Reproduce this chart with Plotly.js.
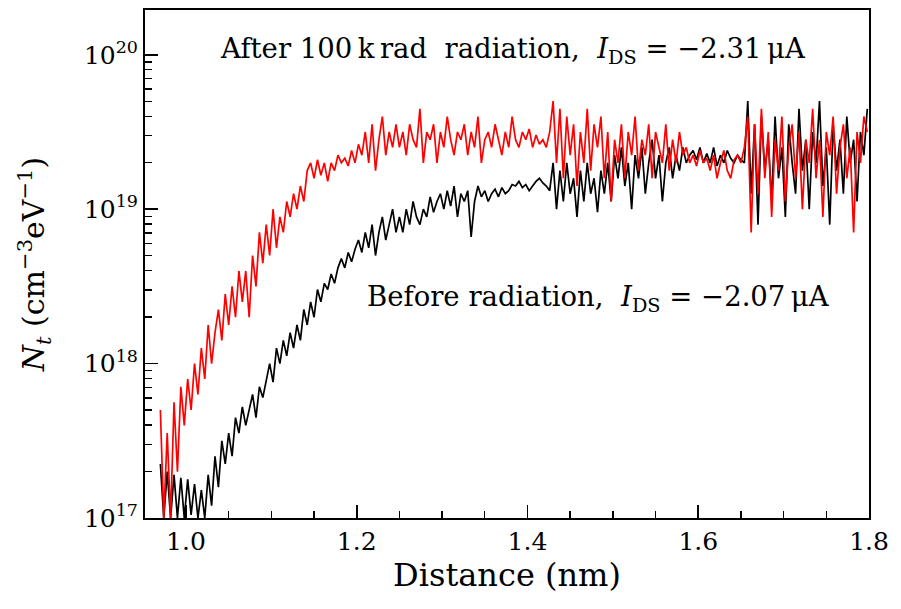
<!DOCTYPE html>
<html>
<head>
<meta charset="utf-8">
<script src="https://cdn.plot.ly/plotly-3.0.1.min.js"></script>
<style>html,body{margin:0;padding:0;background:#fff;}#chart{width:901px;height:609px;}</style>
</head>
<body>
<div id="chart"></div>
<script>
// Distance grid (nm)
const distance = [
0.970,0.974,0.978,0.982,0.986,0.990,0.994,0.998,1.002,1.006,
1.010,1.014,1.018,1.022,1.026,1.030,1.034,1.038,1.042,1.046,
1.050,1.054,1.058,1.062,1.066,1.070,1.074,1.078,1.082,1.086,
1.090,1.094,1.098,1.102,1.106,1.110,1.114,1.118,1.122,1.126,
1.130,1.134,1.138,1.142,1.146,1.150,1.154,1.158,1.162,1.166,
1.170,1.174,1.178,1.182,1.186,1.190,1.194,1.198,1.202,1.206,
1.210,1.214,1.218,1.222,1.226,1.230,1.234,1.238,1.242,1.246,
1.250,1.254,1.258,1.262,1.266,1.270,1.274,1.278,1.282,1.286,
1.290,1.294,1.298,1.302,1.306,1.310,1.314,1.318,1.322,1.326,
1.330,1.334,1.338,1.342,1.346,1.350,1.354,1.358,1.362,1.366,
1.370,1.374,1.378,1.382,1.386,1.390,1.394,1.398,1.402,1.406,
1.410,1.414,1.418,1.422,1.426,1.430,1.434,1.438,1.442,1.446,
1.450,1.454,1.458,1.462,1.466,1.470,1.474,1.478,1.482,1.486,
1.490,1.494,1.498,1.502,1.506,1.510,1.514,1.518,1.522,1.526,
1.530,1.534,1.538,1.542,1.546,1.550,1.554,1.558,1.562,1.566,
1.570,1.574,1.578,1.582,1.586,1.590,1.594,1.598,1.602,1.606,
1.610,1.614,1.618,1.622,1.626,1.630,1.634,1.638,1.642,1.646,
1.650,1.654,1.658,1.662,1.666,1.670,1.674,1.678,1.682,1.686,
1.690,1.694,1.698,1.702,1.706,1.710,1.714,1.718,1.722,1.726,
1.730,1.734,1.738,1.742,1.746,1.750,1.754,1.758,1.762,1.766,
1.770,1.774,1.778,1.782,1.786,1.790,1.794,1.798];

// log10 of Nt (cm^-3 eV^-1), after 100 krad radiation
const afterLog = [
17.7,17.0,17.55,17.0,17.75,17.3,17.85,17.6,17.9,17.7,
18.0,17.8,18.1,17.9,18.25,18.0,18.2,18.35,18.15,18.45,
18.25,18.5,18.3,18.6,18.4,18.6,18.3,18.7,18.5,18.85,
18.65,18.9,18.7,19.0,18.75,18.95,18.85,19.05,18.95,19.1,
19.0,19.15,19.05,19.25,19.3,19.2,19.32,19.22,19.3,19.18,
19.3,19.25,19.35,19.3,19.33,19.28,19.38,19.3,19.42,19.35,
19.5,19.3,19.55,19.25,19.45,19.6,19.35,19.5,19.4,19.55,
19.4,19.5,19.35,19.55,19.45,19.4,19.65,19.3,19.5,19.45,
19.55,19.3,19.5,19.4,19.6,19.45,19.35,19.5,19.45,19.55,
19.35,19.5,19.4,19.6,19.3,19.45,19.5,19.4,19.55,19.45,
19.35,19.5,19.4,19.6,19.45,19.4,19.5,19.45,19.52,19.4,
19.48,19.42,19.45,19.4,19.5,19.7,19.3,19.65,19.2,19.6,
19.35,19.55,19.15,19.5,19.3,19.65,19.25,19.55,19.4,19.6,
19.2,19.5,19.05,19.45,19.3,19.55,19.2,19.5,19.35,19.6,
19.25,19.45,19.35,19.55,19.2,19.5,19.4,19.3,19.55,19.25,
19.45,19.3,19.5,19.35,19.4,19.3,19.35,19.28,19.38,19.3,
19.33,19.25,19.35,19.2,19.3,19.38,19.25,19.2,19.32,19.35,
19.3,19.4,19.6,18.85,19.55,19.1,19.65,19.2,19.5,18.95,
19.45,19.25,19.6,19.05,19.4,19.55,19.2,19.5,19.0,19.45,
19.3,19.65,19.2,19.45,18.95,19.5,19.35,19.6,19.1,19.4,
19.55,19.2,19.4,18.85,19.5,19.3,19.6,19.5];

// log10 of Nt (cm^-3 eV^-1), before radiation
const beforeLog = [
17.35,17.0,17.3,17.0,17.28,17.0,17.26,17.0,17.25,17.02,
17.22,17.0,17.18,17.0,17.28,17.08,17.4,17.2,17.5,17.35,
17.55,17.4,17.65,17.55,17.72,17.6,17.7,17.8,17.65,17.85,
17.78,17.9,18.0,17.88,18.1,18.0,18.15,18.05,18.2,18.1,
18.25,18.15,18.35,18.25,18.4,18.3,18.48,18.4,18.52,18.48,
18.58,18.52,18.62,18.68,18.62,18.72,18.66,18.74,18.8,18.72,
18.85,18.75,18.9,18.7,18.85,18.95,18.8,18.9,19.0,18.85,
18.95,18.85,19.0,18.9,19.05,18.95,18.9,19.0,18.95,19.08,
18.98,19.05,19.1,19.0,19.12,19.02,19.15,18.95,19.1,19.05,
19.12,18.82,19.05,19.15,19.08,19.12,19.05,19.1,19.13,19.08,
19.14,19.1,19.12,19.16,19.15,19.18,19.14,19.16,19.12,19.15,
19.18,19.2,19.17,19.15,19.12,19.3,19.0,19.25,19.05,19.3,
19.1,19.2,18.95,19.25,19.05,19.3,19.1,19.2,18.98,19.25,
19.1,19.3,19.05,19.35,19.2,19.4,19.15,19.3,19.0,19.35,
19.2,19.4,19.1,19.3,19.45,19.2,19.35,19.05,19.3,19.4,
19.2,19.35,19.25,19.4,19.3,19.35,19.38,19.32,19.4,19.3,
19.36,19.3,19.4,19.28,19.35,19.3,19.38,19.33,19.3,19.35,
19.32,19.3,19.7,19.1,19.55,18.9,19.6,19.25,19.45,19.05,
19.6,19.2,19.4,18.95,19.55,19.3,19.1,19.65,19.25,19.45,
19.0,19.5,19.3,19.7,19.15,19.4,18.9,19.55,19.25,19.45,
19.1,19.6,19.3,19.45,19.05,19.5,19.35,19.65];

const yTickVals = [1e17, 1e18, 1e19, 1e20];
const yTickText = ['10<sup>17</sup>', '10<sup>18</sup>', '10<sup>19</sup>', '10<sup>20</sup>'];
const xTickVals = [1.0, 1.2, 1.4, 1.6, 1.8];
const xTickText = ['1.0', '1.2', '1.4', '1.6', '1.8'];

const labelAfter = 'After 100\u2009k\u2009rad  radiation,  <i>I</i><sub>DS</sub> = \u22122.31\u2009\u03bcA';
const labelBefore = 'Before radiation,  <i>I</i><sub>DS</sub> = \u22122.07\u2009\u03bcA';

const toVal = a => a.map(v => Math.pow(10, v));

const yMinor = [];
[1e17, 1e18, 1e19].forEach(d => { for (let k = 2; k <= 9; k++) yMinor.push(k * d); });

const FONT = 'DejaVu Serif, serif';

const traces = [
  {x: distance, y: toVal(beforeLog), type: 'scatter', mode: 'lines',
   line: {color: '#000000', width: 1.7}, name: 'before'},
  {x: distance, y: toVal(afterLog), type: 'scatter', mode: 'lines',
   line: {color: '#ff0000', width: 1.7}, name: 'after'}
];

const layout = {
  width: 901, height: 609,
  margin: {l: 145, r: 32, t: 10, b: 91},
  paper_bgcolor: '#fff', plot_bgcolor: '#fff',
  showlegend: false,
  font: {family: FONT, color: '#000', size: 24},
  xaxis: {
    range: [0.952, 1.8],
    tickmode: 'array', tickvals: xTickVals, ticktext: xTickText,
    ticks: 'inside', ticklen: 13, tickwidth: 1.6, tickcolor: '#000',
    minor: {tickmode: 'linear', tick0: 1.0, dtick: 0.05, ticks: 'inside', ticklen: 7, tickwidth: 1.4, tickcolor: '#000', showgrid: false},
    showline: true, linewidth: 2, linecolor: '#000', mirror: true,
    showgrid: false, zeroline: false,
    tickfont: {family: FONT, size: 25},
    title: {text: 'Distance (nm)', font: {family: FONT, size: 32}, standoff: 8}
  },
  yaxis: {
    type: 'log',
    range: [17, 20.29],
    tickmode: 'array', tickvals: yTickVals, ticktext: yTickText,
    ticks: 'inside', ticklen: 13, tickwidth: 1.6, tickcolor: '#000',
    minor: {tickmode: 'array', tickvals: yMinor, ticks: 'inside', ticklen: 7, tickwidth: 1.4, tickcolor: '#000', showgrid: false},
    showline: true, linewidth: 2, linecolor: '#000', mirror: true,
    showgrid: false, zeroline: false,
    tickfont: {family: FONT, size: 25},
    title: {text: '<i>N</i><sub><i>t</i></sub> (cm<sup>\u22123</sup>eV<sup>\u22121</sup>)', font: {family: FONT, size: 30}, standoff: 30}
  },
  annotations: [
    {xref: 'paper', yref: 'paper', x: 0.508, y: 0.921, text: labelAfter, showarrow: false,
     xanchor: 'center', yanchor: 'middle', font: {family: FONT, size: 27.5, color: '#000'}},
    {xref: 'paper', yref: 'paper', x: 0.627, y: 0.433, text: labelBefore, showarrow: false,
     xanchor: 'center', yanchor: 'middle', font: {family: FONT, size: 27.5, color: '#000'}}
  ]
};

Plotly.newPlot('chart', traces, layout, {displayModeBar: false, staticPlot: true});
</script>
</body>
</html>
